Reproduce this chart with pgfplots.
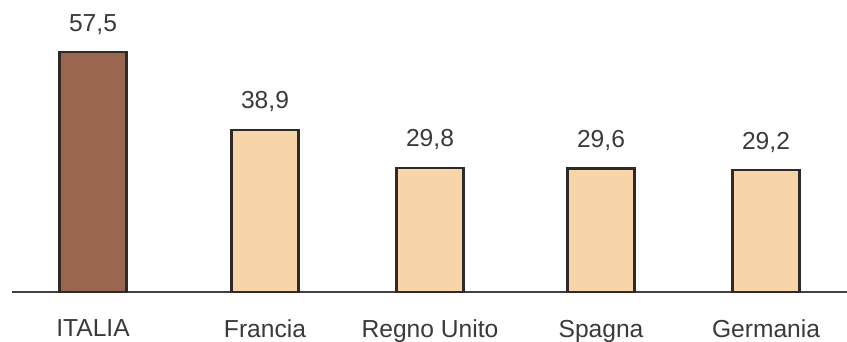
\documentclass[border=0pt]{standalone}
\usepackage{fontspec}
\setmainfont{Liberation Sans}
\usepackage{pgfplots}
\pgfplotsset{compat=1.18}
\definecolor{brownbar}{HTML}{9A6650}
\definecolor{sandbar}{HTML}{F7D5A8}
\definecolor{edge}{HTML}{2E2A28}
\definecolor{txt}{HTML}{3A3A3A}
\begin{document}
\begin{tikzpicture}[x=0.5pt,y=0.5pt]
\begin{axis}[
  at={(6pt,25pt)}, anchor=south west,
  scale only axis, width=417.5pt, height=146pt,
  xmin=12, xmax=847, ymin=0, ymax=70,
  axis y line=none, axis x line*=bottom,
  x axis line style={-, draw=black!75, line width=0.6pt},
  xtick={93,265,430,601,766},
  xticklabels={ITALIA,Francia,Regno Unito,Spagna,Germania},
  major tick length=0pt,
  xticklabel style={font=\fontsize{12.3}{14}\selectfont, text=txt, yshift=-10.5pt},
  ybar, bar width=67, bar shift=0pt,
  nodes near coords,
  every node near coord/.append style={font=\fontsize{12.3}{14}\selectfont, text=txt, yshift=5pt,
    /pgf/number format/.cd, use comma, fixed, fixed zerofill, precision=1, assume math mode=true},
  clip=false,
]
\addplot[fill=brownbar, draw=edge, line width=1.1pt] coordinates {(93,57.5)};
\addplot[fill=sandbar, draw=edge, line width=1.1pt] coordinates {(265,38.9) (430,29.8) (601,29.6) (766,29.2)};
\end{axis}
\pgfresetboundingbox
\useasboundingbox (0pt,0pt) rectangle (423.5pt,171pt);
\end{tikzpicture}
\end{document}
